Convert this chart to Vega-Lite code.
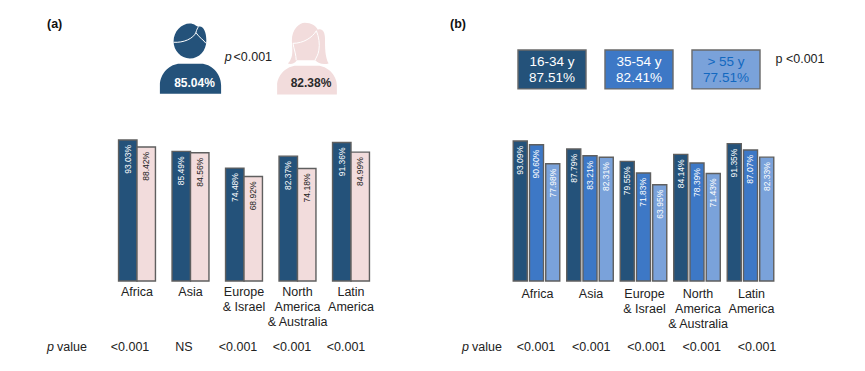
{
"$schema":"https://vega.github.io/schema/vega-lite/v6.json",
"padding":0,
"spacing":0,
"background":"#ffffff",
"config":{"view":{"stroke":null},"text":{"font":"Liberation Sans"},"axis":{"labelFont":"Liberation Sans"},"concat":{"spacing":0}},
"datasets":{
"sex":[
{"region":"Africa","sex":"Men","value":93.03,"label":"93.03%"},{"region":"Africa","sex":"Women","value":88.42,"label":"88.42%"},
{"region":"Asia","sex":"Men","value":85.49,"label":"85.49%"},{"region":"Asia","sex":"Women","value":84.56,"label":"84.56%"},
{"region":"Europe & Israel","sex":"Men","value":74.48,"label":"74.48%"},{"region":"Europe & Israel","sex":"Women","value":68.92,"label":"68.92%"},
{"region":"North America & Australia","sex":"Men","value":82.37,"label":"82.37%"},{"region":"North America & Australia","sex":"Women","value":74.18,"label":"74.18%"},
{"region":"Latin America","sex":"Men","value":91.36,"label":"91.36%"},{"region":"Latin America","sex":"Women","value":84.99,"label":"84.99%"}],
"age":[
{"region":"Africa","age":"16-34 y","value":93.09,"label":"93.09%"},{"region":"Africa","age":"35-54 y","value":90.60,"label":"90.60%"},{"region":"Africa","age":"> 55 y","value":77.98,"label":"77.98%"},
{"region":"Asia","age":"16-34 y","value":87.79,"label":"87.79%"},{"region":"Asia","age":"35-54 y","value":83.21,"label":"83.21%"},{"region":"Asia","age":"> 55 y","value":82.31,"label":"82.31%"},
{"region":"Europe & Israel","age":"16-34 y","value":79.55,"label":"79.55%"},{"region":"Europe & Israel","age":"35-54 y","value":71.83,"label":"71.83%"},{"region":"Europe & Israel","age":"> 55 y","value":63.95,"label":"63.95%"},
{"region":"North America & Australia","age":"16-34 y","value":84.14,"label":"84.14%"},{"region":"North America & Australia","age":"35-54 y","value":78.39,"label":"78.39%"},{"region":"North America & Australia","age":"> 55 y","value":71.43,"label":"71.43%"},
{"region":"Latin America","age":"16-34 y","value":91.35,"label":"91.35%"},{"region":"Latin America","age":"35-54 y","value":87.07,"label":"87.07%"},{"region":"Latin America","age":"> 55 y","value":82.33,"label":"82.33%"}],
"pSex":[{"region":"Africa","p":"<0.001"},{"region":"Asia","p":"NS"},{"region":"Europe & Israel","p":"<0.001"},{"region":"North America & Australia","p":"<0.001"},{"region":"Latin America","p":"<0.001"}],
"pAge":[{"region":"Africa","p":"<0.001"},{"region":"Asia","p":"<0.001"},{"region":"Europe & Israel","p":"<0.001"},{"region":"North America & Australia","p":"<0.001"},{"region":"Latin America","p":"<0.001"}],
"sexTotal":[{"sex":"Men","label":"85.04%"},{"sex":"Women","label":"82.38%"}],
"ageTotal":[{"age":"16-34 y","label":"87.51%"},{"age":"35-54 y","label":"82.41%"},{"age":"> 55 y","label":"77.51%"}]
},
"hconcat":[
{"width":430,"height":371,
"resolve":{"scale":{"x":"independent","xOffset":"independent","color":"independent","shape":"independent"},"axis":{"x":"independent"}},
"layer":[
{"data":{"name":"sex"},"mark":{"type":"bar","stroke":"#5f5f5f","strokeWidth":1.4},
"encoding":{
"x":{"field":"region","type":"nominal","scale":{"domain":["Africa","Asia","Europe & Israel","North America & Australia","Latin America"],"range":[110.25,377.75],"paddingInner":0.31,"paddingOuter":0.155},
"axis":{"title":null,"domain":false,"ticks":false,"labelAngle":0,"offset":-90,"labelPadding":4,"labelFontSize":12.5,"labelColor":"#222222","labelLineHeight":15,"labelOverlap":false,"labelBound":false,"labelFlush":false,"grid":false,
"labelExpr":"datum.value=='Europe & Israel'?['Europe','& Israel']:datum.value=='North America & Australia'?['North','America','& Australia']:datum.value=='Latin America'?['Latin','America']:datum.value"}},
"xOffset":{"field":"sex","type":"nominal","scale":{"domain":["Men","Women"],"paddingInner":0,"paddingOuter":0}},
"y":{"field":"value","type":"quantitative","scale":{"domain":[-59.37,185.36],"nice":false,"zero":false},"axis":null},
"y2":{"datum":0},
"color":{"field":"sex","type":"nominal","scale":{"domain":["Men","Women"],"range":["#24527a","#f2dcdc"]},"legend":null}
}},
{"data":{"name":"sex"},"mark":{"type":"text","angle":270,"align":"right","baseline":"middle","dx":-5,"fontSize":8.5},
"encoding":{
"x":{"field":"region","type":"nominal","bandPosition":0,"scale":{"type":"band","domain":["Africa","Asia","Europe & Israel","North America & Australia","Latin America"],"range":[110.25,377.75],"paddingInner":0.31,"paddingOuter":0.155},"axis":null},
"xOffset":{"field":"sex","type":"nominal","bandPosition":0.5,"scale":{"type":"band","domain":["Men","Women"],"range":[0,37],"paddingInner":0,"paddingOuter":0}},
"y":{"field":"value","type":"quantitative"},
"text":{"field":"label"},
"color":{"field":"sex","type":"nominal","scale":{"domain":["Men","Women"],"range":["#ffffff","#222222"]},"legend":null}
}},
{"data":{"name":"sexTotal"},"mark":{"type":"point","filled":true,"opacity":1,"size":5184},
"encoding":{
"x":{"field":"sex","type":"nominal","scale":{"type":"point","padding":0,"domain":["Men","p","Women"],"range":[190.5,307]},"axis":null},
"y":{"datum":146.8},
"color":{"field":"sex","type":"nominal","scale":{"domain":["Men","Women"],"range":["#24527a","#f2dcdc"]},"legend":null},
"shape":{"field":"sex","type":"nominal","legend":null,"scale":{"domain":["Men","Women"],"range":[
"M-0.85 0.98L-0.85 0.75C-0.85 0.4 -0.55 0.15 -0.3 0.15L0.3 0.15C0.55 0.15 0.85 0.4 0.85 0.75L0.85 0.98ZM-0.47 -0.47C-0.47 -0.75 -0.25 -0.97 -0.02 -0.97C0.1 -0.97 0.15 -0.9 0.22 -0.88C0.35 -0.92 0.44 -0.75 0.44 -0.5C0.44 -0.22 0.25 0 -0.02 0C-0.27 0 -0.47 -0.22 -0.47 -0.47Z",
"M-0.83 1L-0.83 0.75C-0.83 0.45 -0.55 0.2 -0.3 0.2L0.3 0.2C0.55 0.2 0.83 0.45 0.83 0.75L0.83 1ZM-0.53 0.14C-0.35 -0.05 -0.42 -0.3 -0.42 -0.5C-0.42 -0.8 -0.22 -0.99 -0.06 -0.99C0.12 -0.99 0.25 -0.9 0.3 -0.8C0.42 -0.85 0.5 -0.75 0.5 -0.55C0.5 -0.3 0.5 -0.05 0.6 0.14C0.45 0.18 0.3 0.14 0.23 0.05L-0.28 0.05C-0.33 0.14 -0.45 0.17 -0.53 0.14Z"]}}
}},
{"data":{"name":"sexTotal"},"mark":{"type":"point","filled":false,"opacity":1,"size":5184,"strokeWidth":1,"color":"#ffffff"},
"encoding":{
"x":{"field":"sex","type":"nominal","scale":{"type":"point","padding":0,"domain":["Men","p","Women"],"range":[190.5,307]},"axis":null},
"y":{"datum":146.8},
"shape":{"field":"sex","type":"nominal","legend":null,"scale":{"domain":["Men","Women"],"range":[
"M-0.47 -0.45C-0.2 -0.43 0.08 -0.55 0.15 -0.72C0.22 -0.6 0.38 -0.5 0.43 -0.42M0.15 -0.72C0.17 -0.8 0.2 -0.85 0.22 -0.88",
"M-0.3 0.05C-0.3 -0.1 -0.36 -0.25 -0.39 -0.42C-0.1 -0.42 0.15 -0.58 0.26 -0.77C0.33 -0.6 0.36 -0.4 0.33 -0.23C0.31 -0.1 0.26 -0.03 0.22 0.05"]}}
}},
{"data":{"name":"sexTotal"},"mark":{"type":"text","fontSize":12,"fontWeight":"bold","baseline":"middle","dx":4},
"encoding":{
"x":{"field":"sex","type":"nominal","scale":{"type":"point","padding":0,"domain":["Men","p","Women"],"range":[190.5,307]},"axis":null},
"y":{"datum":130.3},
"text":{"field":"label"},
"color":{"field":"sex","type":"nominal","scale":{"domain":["Men","Women"],"range":["#ffffff","#2a2a2a"]},"legend":null}
}},
{"data":{"values":[{"slot":"p"}]},"mark":{"type":"text","text":"p","fontStyle":"italic","fontSize":12.5,"baseline":"middle","align":"right","dx":-17,"color":"#222222"},
"encoding":{
"x":{"field":"slot","type":"nominal","scale":{"type":"point","padding":0,"domain":["Men","p","Women"],"range":[190.5,307]},"axis":null},
"y":{"datum":147.8}
}},
{"data":{"values":[{"slot":"p","label":"<0.001"}]},"mark":{"type":"text","fontSize":12.5,"baseline":"middle","dx":4,"color":"#222222"},
"encoding":{
"x":{"field":"slot","type":"nominal","scale":{"type":"point","padding":0,"domain":["Men","p","Women"],"range":[190.5,307]},"axis":null},
"y":{"datum":147.8},
"text":{"field":"label"}
}},
{"data":{"name":"pSex"},"mark":{"type":"text","fontSize":12.5,"baseline":"middle","color":"#222222"},
"encoding":{
"x":{"field":"region","type":"nominal","scale":{"type":"point","padding":0,"domain":["Africa","Asia","Europe & Israel","North America & Australia","Latin America"],"range":[130,346]},"axis":null},
"y":{"datum":-43.3},
"text":{"field":"p"}
}},
{"data":{"values":[{"slot":"(a)"}]},"mark":{"type":"text","text":"(a)","fontWeight":"bold","fontSize":12.5,"baseline":"middle","align":"left","color":"#111111"},
"encoding":{
"x":{"field":"slot","type":"nominal","scale":{"type":"point","padding":0,"domain":["(a)","p value"],"range":[47,47]},"axis":null},
"y":{"datum":169.5}
}},
{"data":{"values":[{"slot":"p value"}]},"mark":{"type":"text","text":"p","fontStyle":"italic","fontSize":12.5,"baseline":"middle","align":"left","color":"#222222"},
"encoding":{
"x":{"field":"slot","type":"nominal","scale":{"type":"point","padding":0,"domain":["(a)","p value"],"range":[47,47]},"axis":null},
"y":{"datum":-43.3}
}},
{"data":{"values":[{"slot":"p value"}]},"mark":{"type":"text","text":"value","fontSize":12.5,"baseline":"middle","align":"left","dx":10,"color":"#222222"},
"encoding":{
"x":{"field":"slot","type":"nominal","scale":{"type":"point","padding":0,"domain":["(a)","p value"],"range":[47,47]},"axis":null},
"y":{"datum":-43.3}
}}
]},
{"width":435,"height":371,
"resolve":{"scale":{"x":"independent","xOffset":"independent","color":"independent"},"axis":{"x":"independent"}},
"layer":[
{"data":{"name":"age"},"mark":{"type":"bar","stroke":"#5f5f5f","strokeWidth":1.4},
"encoding":{
"x":{"field":"region","type":"nominal","scale":{"domain":["Africa","Asia","Europe & Israel","North America & Australia","Latin America"],"range":[79.75,347.25],"paddingInner":0.13,"paddingOuter":0.065},
"axis":{"title":null,"domain":false,"ticks":false,"labelAngle":0,"offset":-90,"labelPadding":6,"labelOffset":1,"labelFontSize":12.5,"labelColor":"#222222","labelLineHeight":15,"labelOverlap":false,"labelBound":false,"labelFlush":false,"grid":false,
"labelExpr":"datum.value=='Europe & Israel'?['Europe','& Israel']:datum.value=='North America & Australia'?['North','America','& Australia']:datum.value=='Latin America'?['Latin','America']:datum.value"}},
"xOffset":{"field":"age","type":"nominal","scale":{"domain":["16-34 y","35-54 y","> 55 y"],"paddingInner":0.136,"paddingOuter":0}},
"y":{"field":"value","type":"quantitative","scale":{"domain":[-59.84,186.8],"nice":false,"zero":false},"axis":null},
"y2":{"datum":0},
"color":{"field":"age","type":"nominal","scale":{"domain":["16-34 y","35-54 y","> 55 y"],"range":["#24527a","#3d78c6","#7aa2da"]},"legend":null}
}},
{"data":{"name":"age"},"mark":{"type":"text","angle":270,"align":"right","baseline":"middle","dx":-5,"fontSize":8.5,"color":"#ffffff"},
"encoding":{
"x":{"field":"region","type":"nominal","bandPosition":0,"scale":{"type":"band","domain":["Africa","Asia","Europe & Israel","North America & Australia","Latin America"],"range":[79.75,347.25],"paddingInner":0.13,"paddingOuter":0.065},"axis":null},
"xOffset":{"field":"age","type":"nominal","bandPosition":0.5,"scale":{"type":"band","domain":["16-34 y","35-54 y","> 55 y"],"range":[0,46.5],"paddingInner":0.136,"paddingOuter":0}},
"y":{"field":"value","type":"quantitative"},
"text":{"field":"label"}
}},
{"data":{"name":"ageTotal"},"mark":{"type":"bar","stroke":"#6a6a6a","strokeWidth":1.4},
"encoding":{
"x":{"field":"age","type":"nominal","scale":{"domain":["16-34 y","35-54 y","> 55 y","p"],"range":[78.5,426.5],"paddingInner":0.218,"paddingOuter":0.109},"axis":null},
"y":{"datum":153.6},
"y2":{"datum":127.7},
"color":{"field":"age","type":"nominal","scale":{"domain":["16-34 y","35-54 y","> 55 y"],"range":["#24527a","#3d78c6","#7aa2da"]},"legend":null}
}},
{"data":{"name":"ageTotal"},"mark":{"type":"text","fontSize":13.5,"baseline":"middle"},
"encoding":{
"x":{"field":"age","type":"nominal","scale":{"domain":["16-34 y","35-54 y","> 55 y","p"],"range":[78.5,426.5],"paddingInner":0.218,"paddingOuter":0.109},"axis":null},
"y":{"datum":145.8},
"text":{"field":"age"},
"color":{"field":"age","type":"nominal","scale":{"domain":["16-34 y","35-54 y","> 55 y"],"range":["#ffffff","#ffffff","#1268c0"]},"legend":null}
}},
{"data":{"name":"ageTotal"},"mark":{"type":"text","fontSize":13.5,"baseline":"middle"},
"encoding":{
"x":{"field":"age","type":"nominal","scale":{"domain":["16-34 y","35-54 y","> 55 y","p"],"range":[78.5,426.5],"paddingInner":0.218,"paddingOuter":0.109},"axis":null},
"y":{"datum":134.8},
"text":{"field":"label"},
"color":{"field":"age","type":"nominal","scale":{"domain":["16-34 y","35-54 y","> 55 y"],"range":["#ffffff","#ffffff","#1268c0"]},"legend":null}
}},
{"data":{"values":[{"age":"p","label":"p <0.001"}]},"mark":{"type":"text","fontSize":12.5,"baseline":"middle","dx":-13,"color":"#222222"},
"encoding":{
"x":{"field":"age","type":"nominal","scale":{"domain":["16-34 y","35-54 y","> 55 y","p"],"range":[78.5,426.5],"paddingInner":0.218,"paddingOuter":0.109},"axis":null},
"y":{"datum":147.8},
"text":{"field":"label"}
}},
{"data":{"name":"pAge"},"mark":{"type":"text","fontSize":12.5,"baseline":"middle","color":"#222222"},
"encoding":{
"x":{"field":"region","type":"nominal","scale":{"type":"point","padding":0,"domain":["Africa","Asia","Europe & Israel","North America & Australia","Latin America"],"range":[106,327]},"axis":null},
"y":{"datum":-43.7},
"text":{"field":"p"}
}},
{"data":{"values":[{"slot":"(b)"}]},"mark":{"type":"text","text":"(b)","fontWeight":"bold","fontSize":12.5,"baseline":"middle","align":"left","color":"#111111"},
"encoding":{
"x":{"field":"slot","type":"nominal","scale":{"type":"point","padding":0,"domain":["(b)","p value"],"range":[20,32]},"axis":null},
"y":{"datum":170.9}
}},
{"data":{"values":[{"slot":"p value"}]},"mark":{"type":"text","text":"p","fontStyle":"italic","fontSize":12.5,"baseline":"middle","align":"left","color":"#222222"},
"encoding":{
"x":{"field":"slot","type":"nominal","scale":{"type":"point","padding":0,"domain":["(b)","p value"],"range":[20,32]},"axis":null},
"y":{"datum":-43.7}
}},
{"data":{"values":[{"slot":"p value"}]},"mark":{"type":"text","text":"value","fontSize":12.5,"baseline":"middle","align":"left","dx":10,"color":"#222222"},
"encoding":{
"x":{"field":"slot","type":"nominal","scale":{"type":"point","padding":0,"domain":["(b)","p value"],"range":[20,32]},"axis":null},
"y":{"datum":-43.7}
}}
]}
]
}
